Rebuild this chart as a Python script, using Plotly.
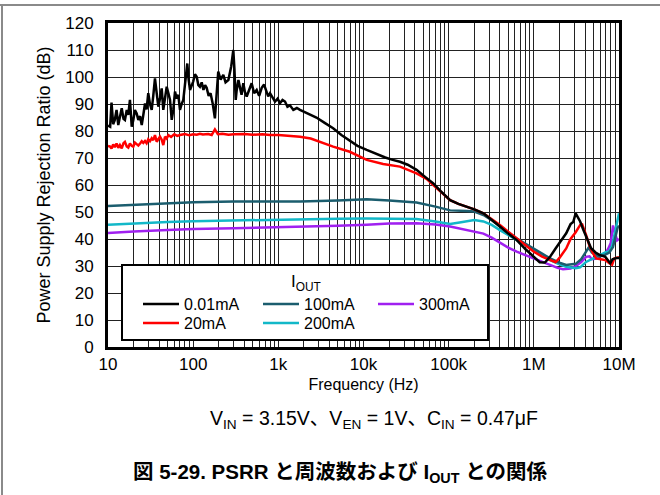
import plotly.graph_objects as go

# ---------------- data ----------------
f_001 = [10, 10.6, 11.0, 11.5, 12.0, 12.6, 13.2, 13.8, 14.5, 15.2, 15.8, 16.6, 17.3, 18.1, 19.0, 19.8,
         20.7, 21.7, 22.7, 23.8, 24.9, 26.0, 27.2, 28.4, 29.7, 31.1, 32.6, 34.0, 35.6, 37.3, 39.0, 40.8,
         42.7, 44.6, 46.7, 48.9, 51.2, 53.5, 56.0, 58.5, 61.2, 64.0, 66.9, 70.0, 73.3, 76.6, 80.0, 85.3,
         88.5, 91.8, 100, 105, 110, 115, 120, 126, 132, 138, 144, 152, 160, 170, 180, 190, 197, 210, 226,
         240, 259, 280, 296, 305, 310, 316, 324, 340, 355, 370, 388, 405, 425, 455, 486, 520, 557, 595,
         638, 680, 730, 760, 799, 850, 914, 980, 1046, 1120, 1197, 1280, 1370, 1500, 1650, 1796,
         2200, 2800, 3500, 4400, 5500, 6900, 8500, 10900, 14000, 18000, 22000, 26800, 33000, 42000,
         52000, 66000, 80000, 104000, 130000, 163000, 200000, 256000, 320000, 400000, 500000, 630000,
         800000, 1000000, 1170000, 1350000, 1550000, 1800000, 2100000, 2400000, 2700000, 2900000,
         3100000, 3300000, 3500000, 3800000, 4100000, 4700000, 5300000, 5900000, 6900000, 7500000,
         7900000, 8400000, 8800000, 9400000, 10000000]
psrr_001 = [82, 81.6, 90.5, 82.5, 84, 87.8, 82.2, 85, 88.4, 84.5, 84.1, 87.8, 86, 91.5, 81.6, 84,
            87.8, 86.5, 84.1, 85.5, 82.2, 86, 90.2, 88, 94, 90, 87.8, 93, 99.5, 94, 89, 92,
            95.8, 87.8, 92, 96.4, 94, 91.5, 84.1, 88, 94.6, 92, 93.4, 87.8, 90, 91.5, 97, 105,
            99, 95.2, 98.3, 101, 100.1, 97, 96.4, 98, 95.2, 97, 96, 93, 94, 90, 84.7, 96, 102, 99, 100.8,
            98, 98.9, 104, 110, 103, 96, 91.5, 95, 98.9, 96, 93.4, 97.7, 94.5, 92.8, 95, 97.7, 94, 95.2, 93,
            96, 97.2, 94, 92.8, 94, 92.5, 90.9, 92, 90.3, 91.5, 90.9, 89, 89.5, 87.8, 88.5, 87.8,
            86.5, 85, 83, 81, 78.5, 76.5, 74.5, 73, 71.5, 70.2, 69.3, 68.6, 67.5, 65.6,
            63.2, 60.6, 57.8, 54.4, 53, 52, 51, 49.5, 47.2, 44.6, 42, 39.6,
            36.2, 33.4, 31.4, 31.3, 33.4, 36.5, 39.5, 42.1, 45.5, 46.3,
            49.5, 48, 46.5, 43.5, 40.9, 36.6, 35, 34.1, 33.4, 32,
            31, 32.5, 32.8, 33, 33]

f_20 = [10, 10.6, 11.0, 11.5, 12.0, 12.6, 13.2, 13.8, 14.5, 15.2, 15.8, 16.6, 17.3, 18.1, 19.0, 19.8,
        20.7, 21.7, 22.7, 23.8, 24.9, 26.0, 27.2, 28.4, 29.7, 31.1, 32.6, 34.0, 35.6, 37.3, 39.0, 40.8,
        42.7, 44.6, 46.7, 48.9, 51.2, 55, 60, 65, 70, 80, 90, 100, 110, 120, 130, 150, 165, 180, 195,
        220, 260, 300, 400, 500, 650, 800, 1000, 1300, 1800, 2400, 3000, 4400, 6900, 10900, 17000,
        26800, 42000, 55000, 66000, 80000, 104000, 130000, 163000, 200000, 256000, 320000, 400000,
        500000, 630000, 800000, 1000000, 1250000, 1550000, 1800000, 2000000, 2400000, 2700000,
        3100000, 3500000, 3700000, 4100000, 4500000, 5000000, 5400000, 5900000, 6900000, 7700000,
        8300000, 8800000, 9400000, 10000000]
psrr_20 = [74.5, 74.2, 73.5, 75, 74, 75.4, 73.8, 74.8, 73.6, 75.5, 76, 74.3, 73.9, 75.4, 74.5, 74.2,
           75.7, 75, 74.6, 75.4, 76.2, 75.6, 76.3, 75.5, 76.9, 76.2, 77.3, 76.6, 78.5, 76, 77.2, 77.9,
           76.8, 74.8, 77.9, 77.2, 78.5, 77.8, 78.8, 78.2, 78.5, 78.9, 78.4, 78.8, 78.6, 79, 78.7, 78.9, 78.5, 80.6, 78.8,
           79, 78.6, 78.8, 78.9, 78.6, 78.8, 78.5, 78.5, 78.2, 77.9, 77.2, 76, 74.2, 72.3, 69.3, 67.8,
           66.8, 64.3, 62.3, 60, 57.5, 54.4, 53, 52, 51, 49.5, 47.5, 45.2,
           42.7, 40.2, 37.5, 35.3, 33.5, 32.2, 31.4, 33, 36.5, 40,
           42.5, 45.2, 45.4, 41.5, 37.5, 34.5, 32.8, 32.6, 32.2, 31,
           30.5, 32.8, 33.2, 33.3]

f_100 = [10, 20, 50, 100, 300, 1000, 1800, 5000, 10900, 20000, 42000, 70000, 104000, 163000, 200000,
         256000, 320000, 400000, 500000, 630000, 800000, 1000000, 1250000, 1550000, 2000000, 2400000,
         3100000, 3600000, 4100000, 4400000, 4800000, 5500000, 5900000, 6900000, 7700000, 8500000,
         9200000, 9600000, 10000000]
psrr_100 = [52.2, 52.6, 53.2, 53.6, 53.9, 54, 53.9, 54.3, 54.7, 54.3, 53.5, 52, 50.6, 50.4, 50.2,
            48.9, 47, 44.6, 42.3, 40.2, 38.2, 36.5, 34.6, 32.8, 31.2, 30.4,
            30.8, 32.5, 35.5, 36.8, 35, 34.1, 33.5, 34.2, 35, 37,
            41, 44, 45]

f_200 = [10, 20, 50, 100, 300, 1000, 1800, 5000, 10900, 20000, 42000, 70000, 104000, 140000, 200000,
         256000, 320000, 400000, 500000, 630000, 800000, 1000000, 1250000, 1550000, 2000000, 2400000,
         3100000, 3500000, 4100000, 4500000, 5500000, 6900000, 7700000, 8300000, 8800000, 9400000,
         10000000]
psrr_200 = [45.3, 45.8, 46.3, 46.6, 46.9, 47.1, 47.3, 47.5, 47.6, 47.6, 47.4, 46.5, 45.6, 46.2, 47,
            46.5, 45.2, 43.3, 41.5, 39.6, 37.8, 35.9, 34, 32.2, 30.6, 29.7,
            29.2, 29.5, 31.5, 32.2, 33.5, 35, 35.5, 37.5, 41, 46,
            49.5]

f_300 = [10, 20, 50, 100, 300, 1000, 1800, 5000, 10900, 20000, 42000, 70000, 104000, 163000, 256000,
         320000, 400000, 500000, 630000, 800000, 1000000, 1250000, 1550000, 1900000, 2200000, 2700000,
         3100000, 3600000, 4100000, 4500000, 4800000, 5500000, 6200000, 6900000, 7500000, 8000000,
         8500000, 9000000, 9500000, 10000000]
psrr_300 = [42.2, 42.8, 43.3, 43.7, 44, 44.3, 44.6, 44.9, 45.3, 45.7, 45.8, 45.4, 44.6, 43.3, 42,
            40.5, 38.5, 36.8, 35.3, 34, 32.8, 31.5, 30.2, 29.3, 28.8, 29.1,
            29.9, 31.5, 33.4, 33.6, 32.5, 32.8, 34, 34.5, 36.5, 38.5,
            45, 42, 39.5, 40]

x_tickvals = [10, 100, 1000, 10000, 100000, 1000000, 10000000]
x_ticktext = ["10", "100", "1k", "10k", "100k", "1M", "10M"]

FONT = "Arial, 'Liberation Sans', 'Noto Sans CJK JP', sans-serif"

# ---------------- figure ----------------
W, H = 660, 495
L, R, T, B = 108, 41, 23, 148
pw, ph = W - L - R, H - T - B

def px(x):
    return (x - L) / pw

def py(y):
    return (H - B - y) / ph

fig = go.Figure()

# name, freq, values, colour, legend id, legend left px, legend top px
series = [
    ("300mA", f_300, psrr_300, "#a020f0", "legend5", 373, 287),
    ("200mA", f_200, psrr_200, "#12b8c8", "legend4", 258, 306),
    ("100mA", f_100, psrr_100, "#1b5d6e", "legend3", 258, 287),
    ("20mA", f_20, psrr_20, "#ff0000", "legend2", 138, 306),
    ("0.01mA", f_001, psrr_001, "#000000", "legend", 138, 287),
]
leg_common = dict(xanchor="left", yanchor="top", bgcolor="rgba(0,0,0,0)", borderwidth=0,
                  font=dict(size=16, color="black"), tracegroupgap=0, itemwidth=36,
                  orientation="v")
legend_layout = {}
for name, fx, fy, col, leg, lx, ly in series:
    fig.add_trace(go.Scatter(x=fx, y=fy, mode="lines", name=name,
                             line=dict(color=col, width=2.5), legend=leg))
    legend_layout[leg] = dict(x=px(lx), y=py(ly), **leg_common)
fig.update_layout(**legend_layout)

grid_col = "#222222"
fig.update_xaxes(type="log", range=[1, 7], tickvals=x_tickvals, ticktext=x_ticktext,
                 showgrid=True, gridcolor=grid_col, gridwidth=1,
                 minor=dict(dtick="D1", showgrid=True, gridcolor=grid_col, gridwidth=1, ticks=""),
                 showline=True, mirror=True, linecolor="black", linewidth=3, ticks="",
                 tickfont=dict(size=17, color="black"),
                 title=dict(text="Frequency (Hz)", font=dict(size=16, color="black"), standoff=6),
                 zeroline=False)
fig.update_yaxes(range=[0, 120], dtick=10, showgrid=True, gridcolor=grid_col, gridwidth=1,
                 showline=True, mirror=True, linecolor="black", linewidth=3, ticks="",
                 tickfont=dict(size=17, color="black"), ticklabelstandoff=8,
                 title=dict(text="Power Supply Rejection Ratio (dB)", font=dict(size=18, color="black"),
                            standoff=10),
                 zeroline=False)

shapes = [
    # legend box
    dict(type="rect", xref="paper", yref="paper", x0=px(122), x1=px(488), y0=py(340), y1=py(265),
         fillcolor="white", line=dict(color="black", width=2), layer="above"),
    # page frame lines
    dict(type="line", xref="paper", yref="paper", x0=px(0), x1=px(660), y0=py(5), y1=py(5),
         line=dict(color="#8a8a8a", width=2), layer="above"),
    dict(type="line", xref="paper", yref="paper", x0=px(2), x1=px(2), y0=py(5), y1=py(495),
         line=dict(color="#8a8a8a", width=2), layer="above"),
]

annotations = [
    dict(text="I<sub>OUT</sub>", xref="paper", yref="paper", x=px(306), y=py(283),
         showarrow=False, font=dict(size=17, color="black", family=FONT), xanchor="center", yanchor="middle"),
    dict(text="V<sub>IN</sub> = 3.15V、V<sub>EN</sub> = 1V、C<sub>IN</sub> = 0.47μF",
         xref="paper", yref="paper", x=px(374), y=py(420), showarrow=False,
         font=dict(size=19.5, color="black", family=FONT), xanchor="center", yanchor="middle"),
    dict(text="<b>図 5-29. PSRR と周波数および I<sub>OUT</sub> との関係</b>",
         xref="paper", yref="paper", x=px(340), y=py(473), showarrow=False,
         font=dict(size=20.5, color="black", family=FONT), xanchor="center", yanchor="middle"),
]

fig.update_layout(
    width=W, height=H, margin=dict(l=L, r=R, t=T, b=B, pad=0),
    paper_bgcolor="white", plot_bgcolor="white",
    font=dict(family=FONT, size=16, color="black"),
    shapes=shapes, annotations=annotations, showlegend=True,
)

fig.write_html("out.html")
